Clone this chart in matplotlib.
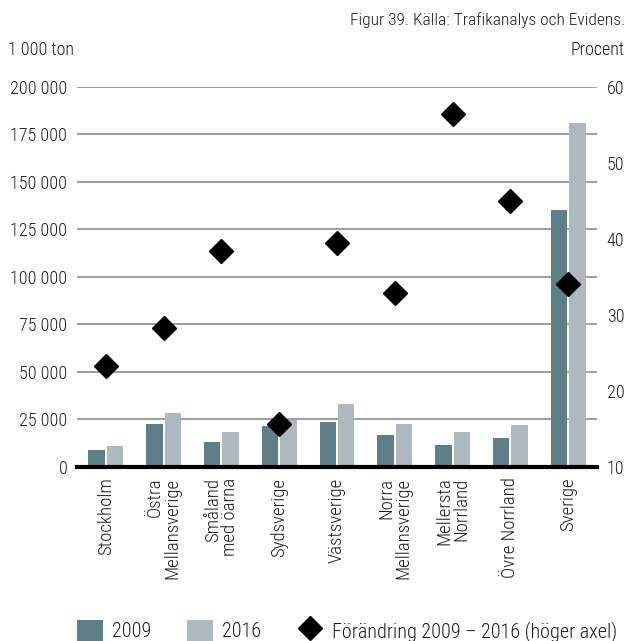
import matplotlib
matplotlib.use("Agg")
import matplotlib.pyplot as plt
from matplotlib import font_manager
from matplotlib.patches import Patch
from matplotlib.lines import Line2D
import numpy as np

# Pick a narrow sans face if one is installed
available = {f.name for f in font_manager.fontManager.ttflist}
for fam in ["Roboto Condensed", "Liberation Sans Narrow", "Roboto", "DejaVu Sans"]:
    if fam in available:
        FONT = fam
        break
plt.rcParams["font.family"] = [FONT, "DejaVu Sans"]
plt.rcParams["font.weight"] = "light"
plt.rcParams["font.size"] = 13

# Freight volumes (1 000 ton) per region and relative change (%)
regions = ["Stockholm", "Östra\nMellansverige", "Småland\nmed öarna", "Sydsverige",
           "Västsverige", "Norra\nMellansverige", "Mellersta\nNorrland",
           "Övre Norrland", "Sverige"]
tons_2009 = [8500, 22200, 13100, 21300, 23700, 16800, 11500, 15200, 135200]
tons_2016 = [10600, 28400, 18400, 24500, 33200, 22600, 18400, 22000, 181000]
change_pct = [23.2, 28.2, 38.4, 15.6, 39.5, 32.9, 56.5, 45.0, 34.0]

left_ticks = [0, 25000, 50000, 75000, 100000, 125000, 150000, 175000, 200000]
left_labels = ["0", "25 000", "50 000", "75 000", "100 000", "125 000",
               "150 000", "175 000", "200 000"]
right_ticks = [10, 20, 30, 40, 50, 60]

c2009 = "#5f7f88"
c2016 = "#adb8bf"
grid_c = "#8a8a8a"
text_c = "#1a1a1a"

W, H = 630, 641
fig = plt.figure(figsize=(W / 100, H / 100), dpi=100)
ax = fig.add_axes([77 / W, 1 - 466.5 / H, 520 / W, (466.5 - 87) / H])

x = np.arange(len(regions))
bw = 0.285
off = 0.16
ax.bar(x - off, tons_2009, width=bw, color=c2009, zorder=3)
ax.bar(x + off, tons_2016, width=bw, color=c2016, zorder=3)

ax.set_xlim(-0.5, len(regions) - 0.5)
ax.set_ylim(0, 200000)
ax.set_yticks(left_ticks)
ax.set_yticklabels(left_labels)
ax.yaxis.grid(True, color=grid_c, linewidth=1.2, zorder=0)
ax.set_axisbelow(True)
for s in ["top", "left", "right"]:
    ax.spines[s].set_visible(False)
ax.spines["bottom"].set_color("black")
ax.spines["bottom"].set_linewidth(3)
ax.spines["bottom"].set_zorder(5)
ax.tick_params(axis="y", length=0, pad=7, labelcolor=text_c)
ax.tick_params(axis="x", length=0, pad=8, labelcolor=text_c)
ax.set_xticks(x)
ax.set_xticklabels(regions, rotation=90, ha="center", va="top",
                   multialignment="right", linespacing=0.95, fontsize=13.5)

ax2 = ax.twinx()
ax2.set_ylim(10, 60)
ax2.set_yticks(right_ticks)
ax2.tick_params(axis="y", length=0, pad=7, labelcolor=text_c)
for s in ["top", "left", "right", "bottom"]:
    ax2.spines[s].set_visible(False)
ax2.plot(x, change_pct, linestyle="none", marker="D", markersize=12.5,
         color="black", zorder=6)

fig.text(625 / W, 1 - 20 / H, "Figur 39. Källa: Trafikanalys och Evidens.",
         ha="right", va="center", color=text_c, fontsize=12.5)
fig.text(8 / W, 1 - 50 / H, "1 000 ton", ha="left", va="center", color=text_c)
fig.text(625 / W, 1 - 50 / H, "Procent", ha="right", va="center", color=text_c)

handles = [Patch(facecolor=c2009, edgecolor="none", label="2009"),
           Patch(facecolor=c2016, edgecolor="none", label="2016"),
           Line2D([], [], linestyle="none", marker="D", markersize=12,
                  color="black", label="Förändring 2009 – 2016 (höger axel)")]
fig.legend(handles=handles, loc="lower left", bbox_to_anchor=(77 / W, -0.001),
           ncol=3, frameon=False, borderpad=0, borderaxespad=0,
           handlelength=1.3, handleheight=1.25, handletextpad=0.42,
           columnspacing=1.8, labelcolor=text_c, fontsize=14.5)

fig.savefig("out.png", dpi=100)
